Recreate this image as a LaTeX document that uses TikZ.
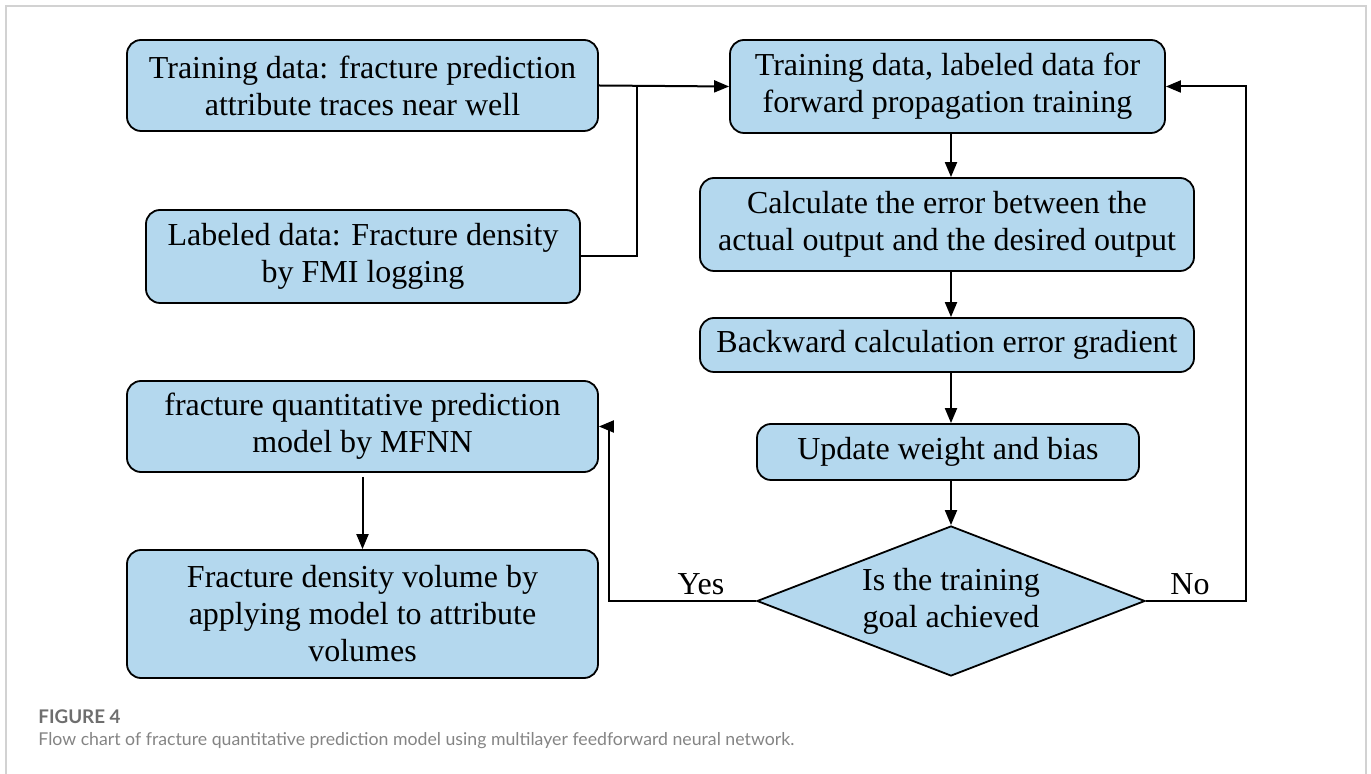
\documentclass[tikz,border=0pt]{standalone}
\usepackage{fontspec}
\setmainfont{Liberation Serif}
\newfontfamily\capfont{Lato}
\usetikzlibrary{shapes.geometric, arrows.meta}
\definecolor{boxblue}{HTML}{B4D8EE}
\definecolor{capgray}{HTML}{6E6E6E}
\definecolor{framegray}{HTML}{D2D2D2}

\begin{document}
\begin{tikzpicture}[x=0.5pt, y=-0.5pt, >={Triangle[length=7.5pt, width=6pt]},
    box/.style={draw, line width=0.9pt, rounded corners=7pt, fill=boxblue,
      align=center, inner sep=0pt, font=\fontsize{16}{18.5}\selectfont},
    decision/.style={diamond, draw, line width=0.9pt, fill=boxblue, aspect=2.6,
      align=center, inner sep=0pt, font=\fontsize{16}{18.5}\selectfont},
    flow/.style={->, line width=1pt},
    lbl/.style={font=\fontsize{16}{18.5}\selectfont, inner sep=0pt}]
  \useasboundingbox (0,0) rectangle (1371,774);

  % Frame
  \draw[framegray, line width=1pt] (6,774) -- (6,6) -- (1366,6) -- (1366,774);

  % Left column
  \node[box, minimum width=235.5pt, minimum height=45.5pt] (traindata) at (362.5,85.5)
    {Training data: fracture prediction\\attribute traces near well};
  \node[box, minimum width=217pt, minimum height=46.5pt] (labeldata) at (363,256.5)
    {Labeled data: Fracture density\\by FMI logging};
  \node[box, minimum width=235.5pt, minimum height=45.5pt] (model) at (362.5,426.5)
    {fracture quantitative prediction\\model by MFNN};
  \node[box, minimum width=235.5pt, minimum height=64pt] (volume) at (362.5,614)
    {Fracture density volume by\\applying model to attribute\\volumes};

  % Right column
  \node[box, minimum width=217.5pt, minimum height=46.5pt] (forward) at (947.5,86.5)
    {Training data, labeled data for\\forward propagation training};
  \node[box, minimum width=247pt, minimum height=46.5pt] (error) at (947,224.5)
    {Calculate the error between the\\actual output and the desired output};
  \node[box, minimum width=247pt, minimum height=27pt] (gradient) at (947,345)
    {Backward calculation error gradient};
  \node[box, minimum width=191pt, minimum height=28pt] (update) at (948,452)
    {Update weight and bias};
  \node[decision, minimum width=194pt, minimum height=75pt] (goal) at (951,601)
    {Is the training\\goal achieved};

  % Turning points
  \coordinate (join) at (637,85.5);
  \coordinate (yescorner) at (609,601);
  \coordinate (nocorner) at (1246,601);

  % Arrows
  \draw[flow] (traindata.east) -- (forward.west);
  \draw[line width=1pt] (labeldata.east) -| (join);
  \draw[flow] (forward.south -| goal) -- (error.north -| goal);
  \draw[flow] (error.south -| goal) -- (gradient.north -| goal);
  \draw[flow] (gradient.south -| goal) -- (update.north -| goal);
  \draw[flow] (update.south -| goal) -- (goal.north);
  \draw[flow] (goal.west) -- (yescorner) |- (model.east);
  \draw[flow] (goal.east) -- (nocorner) |- (forward.east);
  \draw[flow, shorten <=2pt] (model) -- (volume);

  % Labels
  \node[lbl] (yes) at (701,584) {Yes};
  \node[lbl] (no) at (1190,584) {No};

  % Caption
  \node[anchor=base west, inner sep=0pt, text=capgray,
    font=\capfont\bfseries\fontsize{9.4}{11}\selectfont] (figno) at (38,723) {FIGURE 4};
  \node[anchor=base west, inner sep=0pt, text=capgray!85,
    font=\capfont\fontsize{8.85}{11}\selectfont] (caption) at (38,745)
    {Flow chart of fracture quantitative prediction model using multilayer feedforward neural network.};
\end{tikzpicture}
\end{document}
